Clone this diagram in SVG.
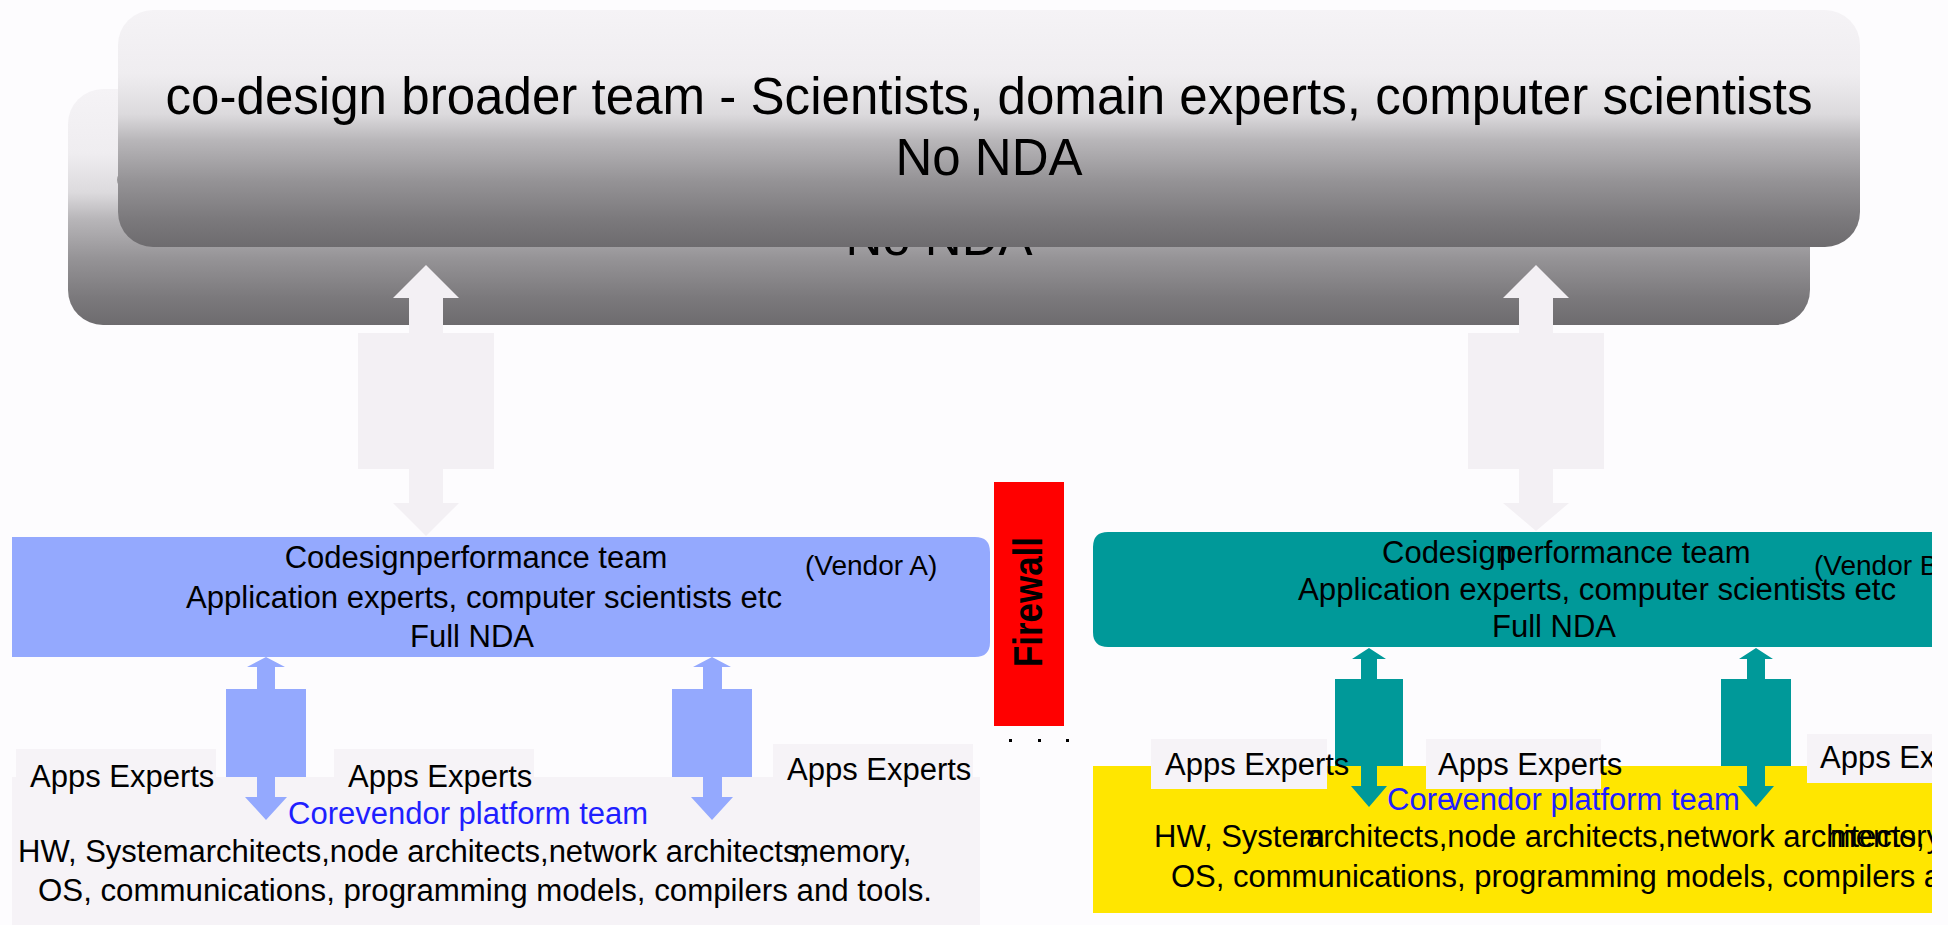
<svg xmlns="http://www.w3.org/2000/svg" width="1948" height="925" viewBox="0 0 1948 925">
  <defs>
    <linearGradient id="greyFade" x1="0" y1="0" x2="0" y2="1">
      <stop offset="0" stop-color="#f5f3f6"/>
      <stop offset="0.27" stop-color="#efedf0"/>
      <stop offset="0.44" stop-color="#dcdadd"/>
      <stop offset="0.55" stop-color="#b8b6b9"/>
      <stop offset="0.72" stop-color="#959396"/>
      <stop offset="0.89" stop-color="#7a787b"/>
      <stop offset="1" stop-color="#6d6b6e"/>
    </linearGradient>
    <clipPath id="pageEdge">
      <rect x="0" y="0" width="1932" height="925"/>
    </clipPath>
    <style>
      text { font-family: "Liberation Sans", Arial, sans-serif; fill: #000; }
      .title { font-size: 51px; text-anchor: middle; }
      .body { font-size: 31px; }
      .mid { text-anchor: middle; }
      .vendor { font-size: 28px; }
      .core { fill: #1f1fff; }
      .fw { font-size: 40px; font-weight: bold; text-anchor: middle; }
      .grey-arrow { fill: #f3f0f4; }
      .blue-arrow { fill: #94a9fe; }
      .teal-arrow { fill: #009999; }
      .apps { fill: #f6f3f7; }
    </style>
  </defs>

  <rect x="0" y="0" width="1948" height="925" fill="#fdfcfe"/>

  <!-- broader team: a shadow copy behind, the main panel in front -->
  <g id="broader-team-back">
    <rect x="68" y="89" width="1742" height="236" rx="35" fill="url(#greyFade)"/>
    <text class="title" x="939" y="194" textLength="1647" lengthAdjust="spacingAndGlyphs">co-design broader team - Scientists, domain experts, computer scientists</text>
    <text class="title" x="939" y="255">No NDA</text>
  </g>
  <g id="broader-team">
    <rect x="118" y="10" width="1742" height="237" rx="35" fill="url(#greyFade)"/>
    <text class="title" x="989" y="114" textLength="1647" lengthAdjust="spacingAndGlyphs">co-design broader team - Scientists, domain experts, computer scientists</text>
    <text class="title" x="989" y="175">No NDA</text>
  </g>

  <!-- Vendor A -->
  <g id="vendor-a-team">
    <path d="M12,537 H975 Q990,537 990,552 V642 Q990,657 975,657 H12 Z" fill="#94a9fe"/>
    <text class="body mid" x="476" y="568">Codesignperformance team</text>
    <text class="vendor" x="805" y="575">(Vendor A)</text>
    <text class="body mid" x="484" y="608" textLength="596" lengthAdjust="spacingAndGlyphs">Application experts, computer scientists etc</text>
    <text class="body mid" x="472" y="647">Full NDA</text>
  </g>
  <g id="vendor-a-platform">
    <rect x="12" y="777" width="968" height="148" fill="#f6f3f7"/>
    <text class="body core" x="288" y="824">Corevendor platform team</text>
    <text class="body" x="18" y="862">HW, Systemarchitects,node architects,network architects,</text>
    <text class="body" x="793" y="862">memory,</text>
    <text class="body" x="38" y="901" textLength="894" lengthAdjust="spacingAndGlyphs">OS, communications, programming models, compilers and tools.</text>
  </g>

  <!-- Firewall -->
  <g id="firewall">
    <rect x="994" y="482" width="70" height="244" fill="#ff0000"/>
    <text class="fw" transform="translate(1042,602) rotate(-90)" textLength="130" lengthAdjust="spacingAndGlyphs">Firewall</text>
    <rect x="1009" y="739" width="3" height="3" fill="#000"/>
    <rect x="1038" y="739" width="3" height="3" fill="#000"/>
    <rect x="1066" y="739" width="3" height="3" fill="#000"/>
  </g>

  <!-- Vendor B -->
  <g id="vendor-b-team" clip-path="url(#pageEdge)">
    <path d="M1108,532 H1960 V647 H1108 Q1093,647 1093,632 V547 Q1093,532 1108,532 Z" fill="#009999"/>
    <text class="body" x="1382" y="563">Codesign</text>
    <text class="body" x="1499" y="563">performance team</text>
    <text class="vendor" x="1814" y="575">(Vendor B)</text>
    <text class="body" x="1298" y="600" textLength="598" lengthAdjust="spacingAndGlyphs">Application experts, computer scientists etc</text>
    <text class="body" x="1492" y="637">Full NDA</text>
  </g>
  <g id="vendor-b-platform" clip-path="url(#pageEdge)">
    <rect x="1093" y="766" width="855" height="147" fill="#ffe600"/>
  </g>

  <!-- Apps Experts label boxes -->
  <g id="apps-a1-box"><rect class="apps" x="16" y="749" width="200" height="40"/></g>
  <g id="apps-a2-box"><rect class="apps" x="334" y="749" width="200" height="40"/></g>
  <g id="apps-a3-box"><rect class="apps" x="773" y="744" width="200" height="40"/></g>
  <g id="apps-b1-box"><rect class="apps" x="1151" y="739" width="176" height="50"/></g>
  <g id="apps-b2-box"><rect class="apps" x="1426" y="739" width="175" height="50"/></g>
  <g id="apps-b3-box" clip-path="url(#pageEdge)"><rect class="apps" x="1807" y="734" width="141" height="49"/></g>

  <!-- double-headed block arrows -->
  <g id="connectors">
    <path class="grey-arrow" d="M426,265 L459,298 L443,298 L443,333 L494,333 L494,469 L443,469 L443,503 L459,503 L426,536 L393,503 L409,503 L409,469 L358,469 L358,333 L409,333 L409,298 L393,298 Z"/>
    <path class="grey-arrow" d="M1536,265 L1569,298 L1553,298 L1553,333 L1604,333 L1604,469 L1553,469 L1553,503 L1569,503 L1536,531 L1503,503 L1519,503 L1519,469 L1468,469 L1468,333 L1519,333 L1519,298 L1503,298 Z"/>
    <path class="blue-arrow" d="M266,657 L285,667 L275,667 L275,689 L306,689 L306,777 L275,777 L275,797 L287,797 L266,820 L245,797 L257,797 L257,777 L226,777 L226,689 L257,689 L257,667 L247,667 Z"/>
    <path class="blue-arrow" d="M712,657 L731,667 L722,667 L722,689 L752,689 L752,777 L722,777 L722,797 L733,797 L712,820 L691,797 L703,797 L703,777 L672,777 L672,689 L703,689 L703,667 L693,667 Z"/>
    <path class="teal-arrow" d="M1369,648 L1386,659 L1377,659 L1377,679 L1403,679 L1403,766 L1377,766 L1377,786 L1387,786 L1369,807 L1351,786 L1361,786 L1361,766 L1335,766 L1335,679 L1361,679 L1361,659 L1352,659 Z"/>
    <path class="teal-arrow" d="M1756,648 L1773,659 L1765,659 L1765,679 L1791,679 L1791,766 L1765,766 L1765,786 L1774,786 L1756,807 L1738,786 L1747,786 L1747,766 L1721,766 L1721,679 L1747,679 L1747,659 L1739,659 Z"/>
  </g>

  <!-- labels drawn over the arrows -->
  <g id="apps-a1"><text class="body" x="30" y="787">Apps Experts</text></g>
  <g id="apps-a2"><text class="body" x="348" y="787">Apps Experts</text></g>
  <g id="apps-a3"><text class="body" x="787" y="780">Apps Experts</text></g>
  <g id="apps-b1"><text class="body" x="1165" y="775">Apps Experts</text></g>
  <g id="apps-b2"><text class="body" x="1438" y="775">Apps Experts</text></g>
  <g id="apps-b3" clip-path="url(#pageEdge)"><text class="body" x="1820" y="768">Apps Experts</text></g>

  <g id="vendor-b-platform-text" clip-path="url(#pageEdge)">
    <text class="body core" x="1387" y="810">Core</text>
    <text class="body core" x="1447" y="810">vendor platform team</text>
    <text class="body" x="1154" y="847">HW, System</text>
    <text class="body" x="1306" y="847">architects,node architects,network architects,</text>
    <text class="body" x="1830" y="847">memory,</text>
    <text class="body" x="1171" y="887">OS, communications, programming models, compilers and tools.</text>
  </g>
</svg>
